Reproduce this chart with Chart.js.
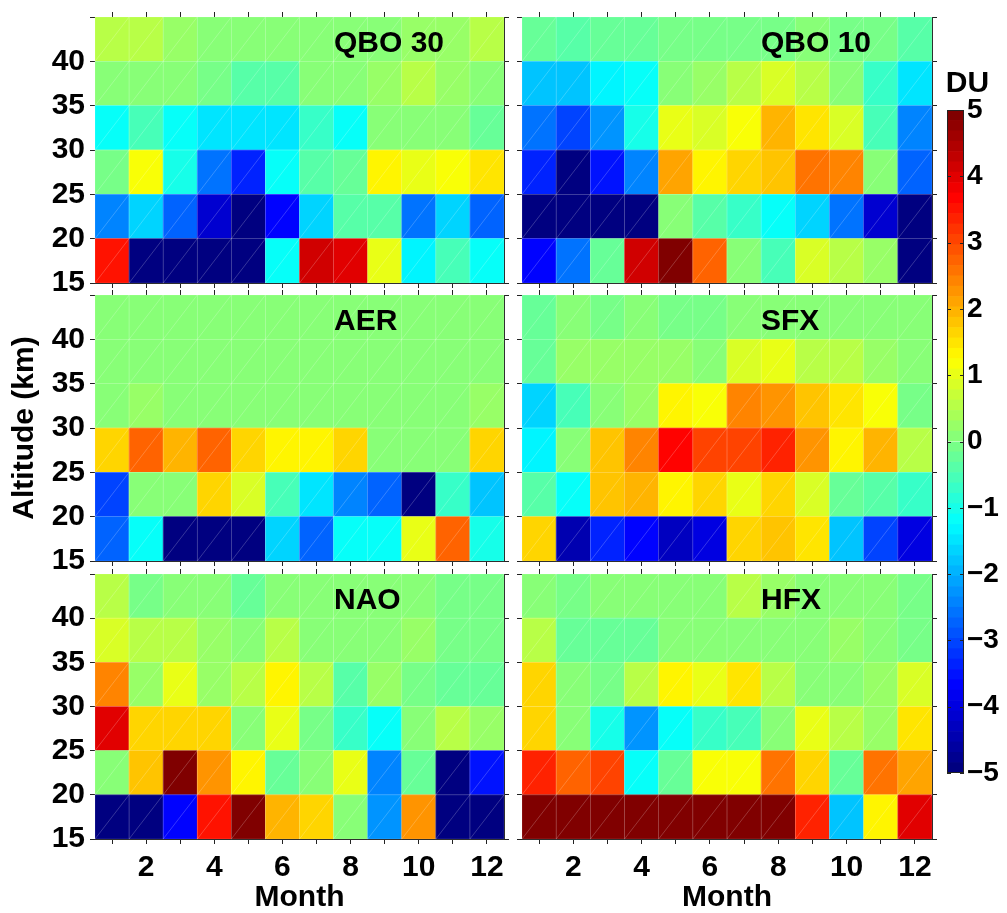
<!DOCTYPE html>
<html>
<head>
<meta charset="utf-8">
<script src="https://cdn.jsdelivr.net/npm/chart.js@4.4.1/dist/chart.umd.min.js"></script>
<style>
html, body { margin: 0; padding: 0; background: #fff; }
#wrap { position: relative; width: 1007px; height: 913px; overflow: hidden; }
#wrap canvas { position: absolute; left: 0; top: 0; }
</style>
</head>
<body>
<div id="wrap">
  <canvas id="qbo30" width="1007" height="913"></canvas>
  <canvas id="qbo10" width="1007" height="913"></canvas>
  <canvas id="aer" width="1007" height="913"></canvas>
  <canvas id="sfx" width="1007" height="913"></canvas>
  <canvas id="nao" width="1007" height="913"></canvas>
  <canvas id="hfx" width="1007" height="913"></canvas>
  <canvas id="cbar" width="1007" height="913"></canvas>
</div>
<script>
// months on x, altitude bins (km) on y
const months = ['1','2','3','4','5','6','7','8','9','10','11','12'];
const altBins = [[15,20],[20,25],[25,30],[30,35],[35,40],[40,45]];
const cbarTicks = [-5,-4,-3,-2,-1,0,1,2,3,4,5];

// DU, rows go bottom (15-20 km) to top (40-45 km)
const qbo30 = [
  [3.45,-5,-5,-5,-5,-1.1,4.2,4.05,0.95,-1.4,-0.6,-1.1],
  [-2.35,-1.7,-2.8,-4.2,-4.85,-3.6,-1.7,-0.45,-0.45,-2.65,-1.7,-2.8],
  [-0.15,1.1,-0.95,-2.65,-3.3,-1.25,-0.45,-0.3,1.25,0.95,1.1,1.5],
  [-1.1,-0.6,-1.1,-1.55,-1.45,-1.55,-0.7,-1.25,0,0,0,-0.3],
  [0,0.1,0,-0.15,-0.35,-0.4,0.15,0.15,0.25,0.6,0.3,0.15],
  [0.5,0.5,0.3,0.15,0.15,0.15,0.15,0.15,0.15,0.2,0.3,0.6]
];
const qbo10 = [
  [-3.6,-2.65,-0.3,4.2,5,2.8,0.15,-0.6,0.8,0.5,0.3,-5],
  [-5,-5,-5,-5,0.15,-0.45,-0.75,-1.25,-1.7,-2.65,-4.2,-5],
  [-3.3,-4.85,-3.45,-2.35,2.05,1.4,1.7,1.8,2.5,2.35,0.15,-2.8],
  [-2.65,-3.0,-2.2,-0.95,0.95,0.9,1.1,1.9,1.5,0.8,-0.6,-2.5],
  [-1.8,-1.85,-1.4,-1.1,0.15,0.3,0.6,0.8,0.5,0.15,-0.75,-1.55],
  [-0.3,-0.45,-0.3,-0.2,-0.15,-0.05,-0.05,-0.05,0,-0.05,-0.05,-0.45]
];
const aer = [
  [-2.8,-1.1,-5,-5,-5,-1.7,-2.8,-1.1,-1.25,0.95,2.8,-0.95],
  [-3.1,0.15,0,1.7,0.9,-0.6,-1.55,-2.5,-2.8,-4.85,-0.75,-1.85],
  [1.6,2.8,2.0,2.8,1.7,1.25,1.25,1.7,0,0,0,1.6],
  [0.1,0.3,0.15,0.15,0,0,0,0.1,0,0.1,0.1,0.3],
  [0.1,0.1,0.1,0.1,0.1,0.1,0.1,0.1,0.1,0.1,0.1,0.1],
  [0.1,0.1,0.1,0.1,0.1,0.1,0.1,0.1,0.1,0.1,0.1,0.1]
];
const sfx = [
  [1.6,-4.5,-3.3,-3.75,-4.35,-3.95,1.6,1.85,1.5,-1.85,-3.1,-4.05],
  [-0.45,-1.1,1.8,1.95,1.25,1.6,0.95,1.6,0.8,-0.3,-0.45,-0.75],
  [-1.4,0.15,1.8,2.35,3.6,3.1,3.1,3.3,2.2,1.25,2.0,0.5],
  [-1.6,-0.6,0,0.3,1.25,1.1,2.4,2.2,1.8,1.55,1.1,-0.15],
  [-0.2,0.3,0.3,0.3,0.3,0.15,0.8,0.95,0.6,0.6,0.3,0.15],
  [-0.2,0,-0.15,0,-0.15,-0.15,0.15,0.15,0.15,0,0,0]
];
const nao = [
  [-5,-5,-3.75,3.45,5,1.95,1.6,0,-2.2,2.2,-5,-5],
  [0,1.8,5,2.2,1.4,-0.3,0,0.95,-2.35,-0.3,-5,-3.45],
  [4.05,1.7,1.7,1.7,0,1.0,-0.15,-0.75,-1.25,0.15,0.6,0.3],
  [2.4,0.3,0.95,0.3,0.5,1.25,0.5,-0.45,0.3,-0.15,-0.3,-0.3],
  [0.8,0.5,0.5,0.3,0.15,0.5,0,0,0.15,0.3,-0.15,-0.15],
  [0.6,-0.15,0.1,0.1,-0.2,0.1,0,0,0,0.1,-0.15,-0.15]
];
const hfx = [
  [5,5,5,5,5,5,5,5,3.3,-1.85,1.4,3.95],
  [3.3,2.8,3.0,-1.25,-0.3,1.1,1.1,2.5,1.6,-0.3,2.5,2.05],
  [1.7,0.15,-0.95,-2.2,-1.1,-0.75,-0.6,0.15,0.95,0.6,0.3,1.48],
  [1.6,0.15,-0.15,0.5,1.25,0.95,1.55,0.5,0.15,0,0.3,0.8],
  [0.5,-0.3,-0.3,-0.3,0,0,0.15,0.1,0,0.3,0.15,-0.15],
  [0.15,-0.15,0,0.1,0.15,0.15,0.5,0.3,0.15,0.15,0,-0.15]
];

const FONT = "'Liberation Sans', Arial, sans-serif";
Chart.defaults.font.family = FONT;
Chart.defaults.color = '#000';

const NLEV = 64;
function clamp(v) { return Math.max(0, Math.min(1, v)); }
function jet(t) {
  const r = clamp(1.5 - Math.abs(4 * t - 3));
  const g = clamp(1.5 - Math.abs(4 * t - 2));
  const b = clamp(1.5 - Math.abs(4 * t - 1));
  return 'rgb(' + Math.round(r * 255) + ',' + Math.round(g * 255) + ',' + Math.round(b * 255) + ')';
}
function levelOf(v) {
  return Math.max(0, Math.min(NLEV - 1, Math.floor((v + 5) / 10 * NLEV)));
}
function colorOf(v) { return jet(levelOf(v) / (NLEV - 1)); }

// thin light cell outlines and the diagonal that the original renderer left in each cell
const cellLines = {
  id: 'cellLines',
  afterDatasetsDraw(chart) {
    const ctx = chart.ctx;
    ctx.save();
    ctx.lineWidth = 0.6;
    chart.data.datasets.forEach((ds, i) => {
      chart.getDatasetMeta(i).data.forEach(bar => {
        const p = bar.getProps(['x', 'y', 'base', 'width'], true);
        const l = p.x - p.width / 2, r = p.x + p.width / 2;
        ctx.strokeStyle = 'rgba(255,255,255,0.35)';
        ctx.beginPath();
        ctx.moveTo(l, p.base);
        ctx.lineTo(r, p.y);
        ctx.stroke();
        ctx.strokeStyle = 'rgba(255,255,255,0.22)';
        ctx.strokeRect(l, p.y, p.width, p.base - p.y);
      });
    });
    ctx.restore();
  }
};

// fixed axis sizes so every plot area lands on the same pixel box
function fixSize(w, h) {
  return s => {
    if (w !== null) s.width = w;
    if (h !== null) s.height = h;
    s.paddingTop = 0; s.paddingBottom = 0; s.paddingLeft = 0; s.paddingRight = 0;
  };
}

function makePanel(id, name, rows, box, showY, showX, yTitle) {
  const datasets = altBins.map((bin, k) => ({
    data: months.map(() => [bin[0], bin[1]]),
    backgroundColor: rows[k].map(colorOf),
    borderWidth: 0,
    barPercentage: 1,
    categoryPercentage: 1,
    grouped: false
  }));
  const yW = showY ? 95 : 10;
  const xH = showX ? 74 : 10;
  const tickGrid = { display: true, drawOnChartArea: false, drawTicks: true, tickLength: 5, tickColor: '#222', offset: false };
  const frame = { display: true, color: '#222', width: 1 };
  const tickFont = { size: 30, weight: 'bold' };

  const label = {
    id: 'panelLabel',
    afterDraw(chart) {
      const ctx = chart.ctx, a = chart.chartArea;
      ctx.save();
      ctx.font = 'bold 30px ' + FONT;
      ctx.fillStyle = '#000';
      ctx.textAlign = 'left';
      ctx.textBaseline = 'middle';
      ctx.fillText(name, a.left + 239, a.top + 27);
      ctx.restore();
    }
  };

  new Chart(document.getElementById(id), {
    type: 'bar',
    data: { labels: months, datasets: datasets },
    options: {
      responsive: false,
      animation: false,
      layout: { padding: { left: box.L - yW, right: 1007 - box.R - 10, top: box.T - 10, bottom: 913 - box.B - xH } },
      plugins: { legend: { display: false }, tooltip: { enabled: false } },
      scales: {
        x: {
          type: 'category', position: 'bottom', offset: true, z: 1,
          grid: tickGrid, border: frame,
          ticks: { display: showX, autoSkip: false, maxRotation: 0, font: tickFont, padding: 6,
                   callback: (v, i) => ((i + 1) % 2 === 0 ? months[i] : '') },
          title: { display: showX, text: 'Month', font: tickFont, padding: { top: 0, bottom: -3 } },
          afterFit: fixSize(null, xH)
        },
        x2: {
          type: 'category', position: 'top', offset: true, z: 1,
          grid: tickGrid, border: frame,
          ticks: { display: false },
          afterFit: fixSize(null, 10)
        },
        y: {
          type: 'linear', position: 'left', min: 15, max: 45, z: 1,
          grid: tickGrid, border: frame,
          ticks: { display: showY, stepSize: 5, font: tickFont, padding: 5,
                   callback: v => (v === 45 ? '' : String(v)) },
          title: { display: !!yTitle, text: yTitle || '', font: tickFont, padding: { top: 7, bottom: 0 } },
          afterFit: fixSize(yW, null)
        },
        y2: {
          type: 'linear', position: 'right', min: 15, max: 45, z: 1,
          grid: tickGrid, border: frame,
          ticks: { display: false, stepSize: 5 },
          afterFit: fixSize(10, null)
        }
      }
    },
    plugins: [cellLines, label]
  });
}

const colL = { L: 95, R: 504 }, colR = { L: 522, R: 932 };
const rowT = [[17, 283], [295, 561], [574, 839]];
function box(col, r) { return { L: col.L, R: col.R, T: rowT[r][0], B: rowT[r][1] }; }

makePanel('qbo30', 'QBO 30', qbo30, box(colL, 0), true, false, null);
makePanel('qbo10', 'QBO 10', qbo10, box(colR, 0), false, false, null);
makePanel('aer', 'AER', aer, box(colL, 1), true, false, 'Altitude (km)');
makePanel('sfx', 'SFX', sfx, box(colR, 1), false, false, null);
makePanel('nao', 'NAO', nao, box(colL, 2), true, true, null);
makePanel('hfx', 'HFX', hfx, box(colR, 2), false, true, null);

// colour bar: one floating bar per colour level
const levels = [];
for (let i = 0; i < NLEV; i++) levels.push(i);
const cbarSets = levels.map(i => ({
  data: [[-5 + i * 10 / NLEV, -5 + (i + 1) * 10 / NLEV]],
  backgroundColor: jet(i / (NLEV - 1)),
  borderWidth: 0,
  barPercentage: 1,
  categoryPercentage: 1,
  grouped: false
}));
const cbarFrame = {
  id: 'cbarFrame',
  afterDraw(chart) {
    const ctx = chart.ctx, a = chart.chartArea;
    const ys = chart.scales.y;
    ctx.save();
    ctx.strokeStyle = '#222';
    ctx.lineWidth = 1;
    // short dashes at each labelled level, on both inner edges
    cbarTicks.forEach(v => {
      const y = Math.round(ys.getPixelForValue(v)) + 0.5;
      ctx.beginPath();
      ctx.moveTo(a.left, y); ctx.lineTo(a.left + 4, y);
      ctx.moveTo(a.right - 4, y); ctx.lineTo(a.right, y);
      ctx.stroke();
    });
    ctx.strokeRect(a.left + 0.5, a.top + 0.5, a.right - a.left - 1, a.bottom - a.top - 1);
    ctx.font = 'bold 30px ' + FONT;
    ctx.fillStyle = '#000';
    ctx.textAlign = 'center';
    ctx.textBaseline = 'middle';
    ctx.fillText('DU', (a.left + a.right) / 2 + 12, a.top - 26);
    ctx.restore();
  }
};
new Chart(document.getElementById('cbar'), {
  type: 'bar',
  data: { labels: [''], datasets: cbarSets },
  options: {
    responsive: false,
    animation: false,
    layout: { padding: { left: 947, right: 0, top: 110, bottom: 140 } },
    plugins: { legend: { display: false }, tooltip: { enabled: false } },
    scales: {
      x: { display: false, offset: true },
      y: {
        position: 'right', min: -5, max: 5,
        grid: { drawOnChartArea: false, drawTicks: false },
        border: { display: false },
        ticks: { stepSize: 1, padding: 3, font: { size: 28, weight: 'bold' },
                 callback: v => (cbarTicks.includes(v) ? String(v).replace('-', '\u2212') : null) },
        afterFit: fixSize(43, null)
      }
    }
  },
  plugins: [cbarFrame]
});
</script>
</body>
</html>
